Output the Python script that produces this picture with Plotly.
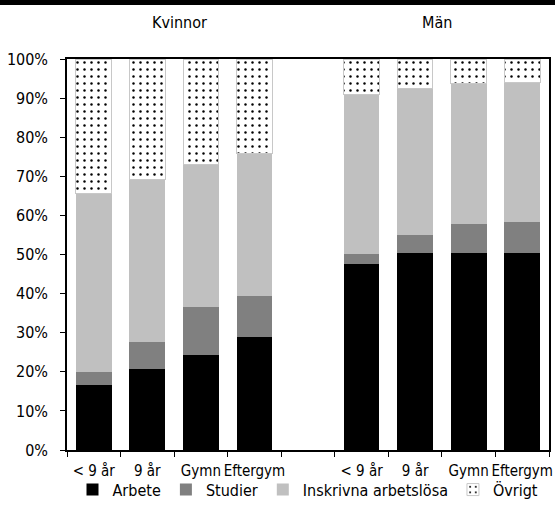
import plotly.graph_objects as go

# Category slots: four education levels for women, an empty spacer, four for men
edu_labels = ["< 9 år", "9 år", "Gymn", "Eftergym"]
group_labels = ["Kvinnor", "Män"]
series_names = ["Arbete", "Studier", "Inskrivna arbetslösa", "Övrigt"]

# Shares (%) per segment, women then men
kvinnor_arbete = [16.7, 20.8, 24.4, 29.0]
kvinnor_studier = [3.3, 6.9, 12.1, 10.4]
kvinnor_inskrivna = [45.6, 41.5, 36.6, 36.4]
kvinnor_ovrigt = [34.4, 30.8, 26.9, 24.2]

man_arbete = [47.5, 50.5, 50.5, 50.5]
man_studier = [2.7, 4.5, 7.4, 7.7]
man_inskrivna = [40.6, 37.5, 35.8, 35.7]
man_ovrigt = [9.2, 7.5, 6.3, 6.1]

y_ticks = [0, 10, 20, 30, 40, 50, 60, 70, 80, 90, 100]

FONT = "DejaVu Sans Condensed, Roboto, sans-serif"
FS = 16

x_pos = [0, 1, 2, 3, 5, 6, 7, 8]
series = [
    (kvinnor_arbete + man_arbete, "#000000"),
    (kvinnor_studier + man_studier, "#808080"),
    (kvinnor_inskrivna + man_inskrivna, "#c0c0c0"),
    (kvinnor_ovrigt + man_ovrigt, None),
]

fig = go.Figure()
for name, (vals, color) in zip(series_names, series):
    frac = [v / 100 for v in vals]
    if color is None:
        marker = dict(
            color="white",
            line=dict(color="#c8c8c8", width=1),
            pattern=dict(shape=".", fgcolor="black", bgcolor="white",
                         size=7, solidity=0.1, fillmode="replace"),
        )
    else:
        marker = dict(color=color, line=dict(color=color, width=0))
    fig.add_trace(go.Bar(x=x_pos, y=frac, name=name, marker=marker))

# Group headings above the plot
for label, xc in zip(group_labels, [1.6, 6.4]):
    fig.add_annotation(x=xc, y=1, xref="x", yref="paper", yshift=37,
                       yanchor="middle", text=label, showarrow=False,
                       font=dict(family=FONT, size=FS, color="#000"))

# Black header strip across the top edge of the page
fig.add_annotation(x=0.5, y=1, xref="paper", yref="paper", yshift=59,
                   xanchor="center", yanchor="top", text=" ",
                   showarrow=False, width=1200, height=5, borderpad=0,
                   bgcolor="black", borderwidth=0,
                   font=dict(size=1, color="black"))

boundaries = [i + 0.5 for i in range(-1, 9)]

fig.update_layout(
    width=555, height=521,
    margin=dict(l=67, r=2, t=59, b=71),
    paper_bgcolor="white", plot_bgcolor="white",
    barmode="stack", bargap=1 / 3,
    font=dict(family=FONT, size=FS, color="#000"),
    showlegend=True,
    legend=dict(orientation="h", x=0.5, xanchor="center", y=-0.058,
                yanchor="top", itemwidth=30, traceorder="normal",
                bgcolor="rgba(0,0,0,0)",
                font=dict(family=FONT, size=FS), itemclick=False),
    xaxis=dict(
        range=[-0.5, 8.5], tickvals=x_pos, ticktext=edu_labels * 2,
        tickangle=0, tickfont=dict(family=FONT, size=15),
        ticks="", showline=True, linecolor="black", linewidth=1.5,
        mirror=True, showgrid=False, zeroline=False, layer="below traces",
        minor=dict(ticks="outside", tickvals=boundaries, ticklen=5,
                   tickcolor="black", tickwidth=1, showgrid=False),
        ticklabelstandoff=6,
    ),
    xaxis2=dict(
        overlaying="x", anchor="y", side="bottom", range=[-0.5, 8.5],
        tickvals=boundaries, ticks="inside", ticklen=6, tickcolor="black",
        showticklabels=False, showline=False, showgrid=False, zeroline=False,
    ),
    yaxis=dict(
        range=[0, 1], tickvals=[t / 100 for t in y_ticks],
        ticktext=[f"{t}%" for t in y_ticks],
        ticks="outside", ticklen=5, tickcolor="black",
        showline=True, linecolor="black", linewidth=1.5, mirror=True,
        showgrid=False, zeroline=False, layer="below traces",
        ticklabelstandoff=9,
    ),
)

fig.write_html("out.html")
